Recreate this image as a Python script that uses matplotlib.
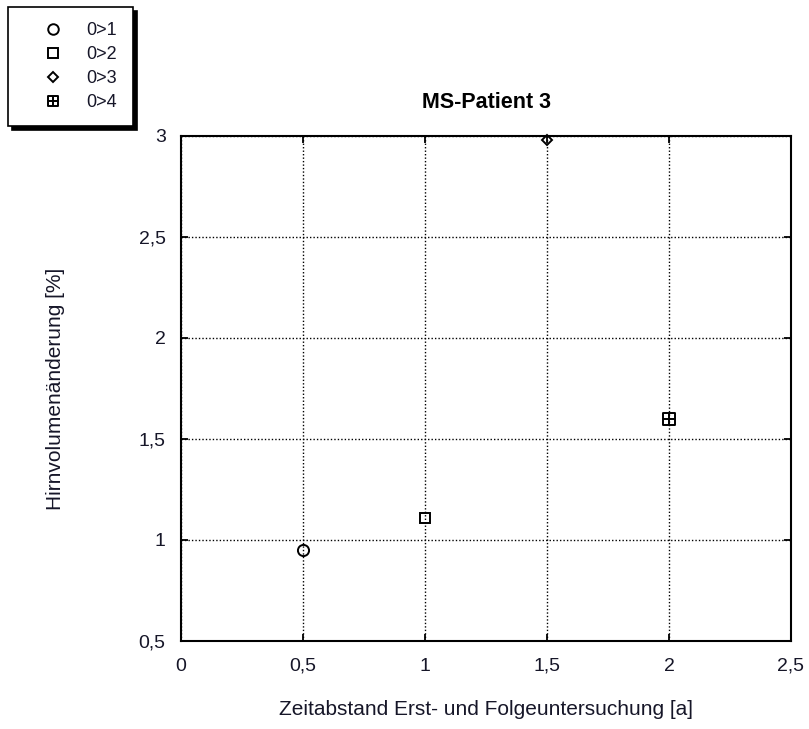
import matplotlib
matplotlib.use("Agg")
import matplotlib.pyplot as plt
from matplotlib.path import Path
from matplotlib.ticker import FuncFormatter

plt.rcParams['font.family'] = ['Liberation Sans', 'DejaVu Sans']
TEXT = '#161628'

# Brain volume change per follow-up interval
series_labels = ["0>1", "0>2", "0>3", "0>4"]
interval_years = [0.5, 1.0, 1.5, 2.0]
volume_change = [0.95, 1.11, 2.98, 1.6]

# square with a cross inside
boxplus = Path(
    [(-1, -1), (1, -1), (1, 1), (-1, 1), (-1, -1),
     (0, -1), (0, 1), (-1, 0), (1, 0)],
    [Path.MOVETO, Path.LINETO, Path.LINETO, Path.LINETO, Path.CLOSEPOLY,
     Path.MOVETO, Path.LINETO, Path.MOVETO, Path.LINETO])
markers = ['o', 's', 'D', boxplus]
sizes = [8, 7.5, 5.5, 8]

fig = plt.figure(figsize=(8.09, 7.29), dpi=100)
ax = fig.add_axes([181/809, 1-641/729, 610/809, 505/729])

for lab, x, y, m, s in zip(series_labels, interval_years, volume_change, markers, sizes):
    ax.plot([x], [y], linestyle='none', marker=m, markersize=s,
            markerfacecolor='none', markeredgecolor='black',
            markeredgewidth=1.4, label=lab, clip_on=False, zorder=5)

ax.set_xlim(0, 2.5)
ax.set_ylim(0.5, 3)
ax.set_xticks([0, 0.5, 1, 1.5, 2, 2.5])
ax.set_yticks([0.5, 1, 1.5, 2, 2.5, 3])
fmt = FuncFormatter(lambda v, p: f"{v:g}".replace('.', ','))
ax.xaxis.set_major_formatter(fmt)
ax.yaxis.set_major_formatter(fmt)
ax.tick_params(direction='in', length=5, width=1.3, labelsize=14,
               labelcolor=TEXT, top=True, right=True,
               labeltop=False, labelright=False)
ax.tick_params(axis='x', pad=12)
ax.tick_params(axis='y', pad=11)
ax.grid(True, color='black', linestyle=(0, (1, 1.5)), linewidth=1)
for sp in ax.spines.values():
    sp.set_linewidth(1.5)

ax.set_title("MS-Patient 3", fontsize=15.5, fontweight='bold', pad=20, color='black')
ax.set_xlabel("Zeitabstand Erst- und Folgeuntersuchung [a]", fontsize=15,
              labelpad=18, color=TEXT)
ax.set_ylabel("Hirnvolumenänderung [%]", fontsize=15, labelpad=53, color=TEXT)

leg = fig.legend(loc='upper left', bbox_to_anchor=(8/809, 1-7/729),
                 bbox_transform=fig.transFigure, fontsize=13,
                 frameon=True, fancybox=False, edgecolor='black',
                 shadow={'color': 'black', 'alpha': 1, 'ox': 3, 'oy': -3},
                 handletextpad=0.2, labelspacing=0.38, borderpad=0.85,
                 borderaxespad=0, handlelength=3.3, markerscale=0.95)
leg.get_frame().set_linewidth(1.2)
for t in leg.get_texts():
    t.set_color(TEXT)

fig.savefig("out.png", dpi=100, facecolor='white')
